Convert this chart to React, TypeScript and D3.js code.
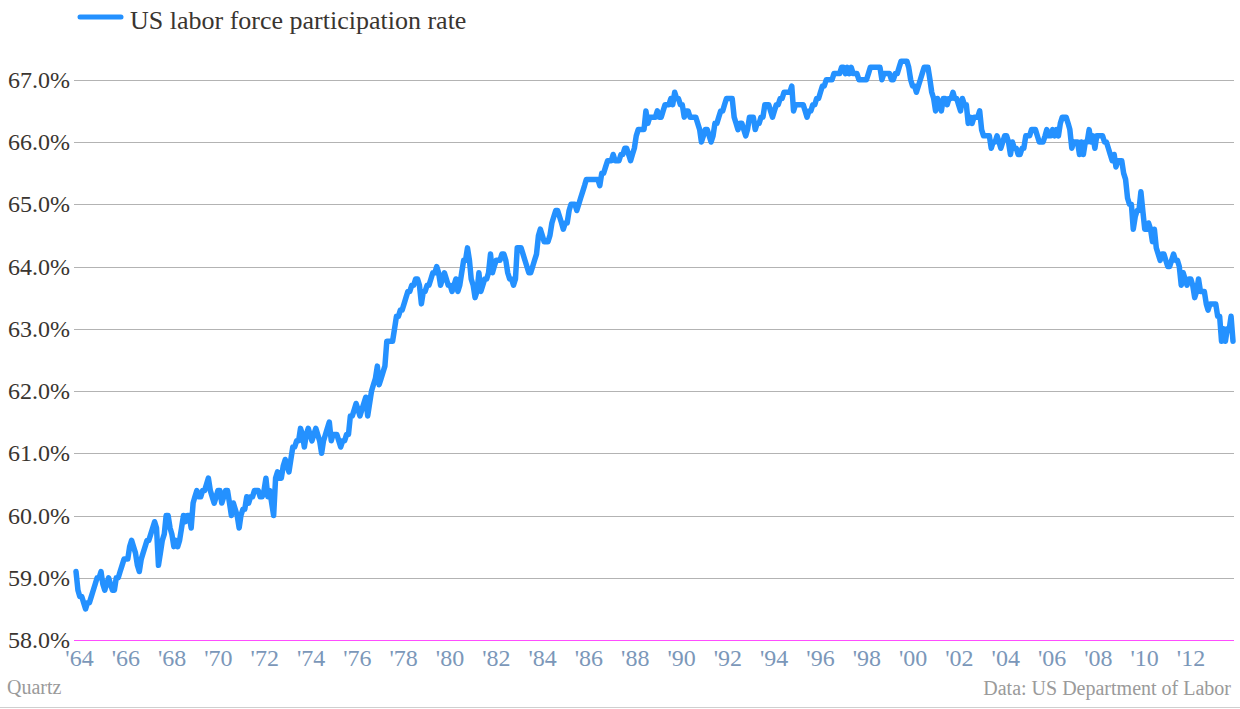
import React from "react";
import * as d3 from "d3";

// Monthly US labor force participation rate (%), Jan 1964 onward
const rate1960s = [
  59.1, 58.8, 58.7, 58.7, 58.6, 58.5, 58.6, 58.6, 58.7, 58.8, 58.9, 59.0,
  59.0, 59.1, 58.9, 58.8, 58.9, 59.0, 58.9, 58.8, 58.8, 59.0, 59.0, 59.1,
  59.2, 59.3, 59.3, 59.3, 59.5, 59.6, 59.5, 59.4, 59.2, 59.1, 59.3, 59.4,
  59.5, 59.6, 59.6, 59.7, 59.8, 59.9, 59.8, 59.2, 59.4, 59.6, 59.7, 60.0,
  60.0, 59.8, 59.7, 59.5, 59.6, 59.5, 59.6, 59.8, 60.0, 59.9, 60.0, 60.0,
  59.8, 60.2, 60.3, 60.4, 60.3, 60.3, 60.4, 60.4, 60.5, 60.6, 60.4, 60.3,
];
const rate1970s = [
  60.2, 60.3, 60.4, 60.4, 60.2, 60.3, 60.4, 60.4, 60.2, 60.0, 60.2, 60.1,
  60.0, 59.8, 60.0, 60.1, 60.1, 60.3, 60.2, 60.3, 60.3, 60.4, 60.4, 60.4,
  60.3, 60.3, 60.4, 60.6, 60.3, 60.4, 60.2, 60.0, 60.6, 60.7, 60.6, 60.6,
  60.8, 60.9, 60.8, 60.7, 60.9, 61.1, 61.1, 61.2, 61.2, 61.4, 61.3, 61.1,
  61.3, 61.4, 61.3, 61.2, 61.3, 61.4, 61.3, 61.2, 61.0, 61.2, 61.3, 61.4,
  61.5, 61.2, 61.3, 61.3, 61.3, 61.2, 61.1, 61.2, 61.2, 61.3, 61.3, 61.6,
  61.6, 61.7, 61.8, 61.7, 61.6, 61.7, 61.8, 61.9, 61.6, 61.8, 62.0, 62.1,
  62.2, 62.4, 62.1, 62.2, 62.3, 62.4, 62.8, 62.8, 62.8, 62.8, 63.0, 63.2,
  63.2, 63.3, 63.3, 63.4, 63.5, 63.6, 63.6, 63.7, 63.7, 63.8, 63.8, 63.7,
  63.4, 63.6, 63.6, 63.7, 63.7, 63.8, 63.9, 63.9, 64.0, 63.9, 63.7, 63.8,
];
const rate1980s = [
  63.9, 63.8, 63.7, 63.7, 63.6, 63.7, 63.8, 63.6, 63.7, 63.9, 64.1, 64.1,
  64.3, 64.1, 63.8, 63.7, 63.5, 63.6, 63.9, 63.6, 63.7, 63.8, 63.8, 63.9,
  64.2, 63.9, 64.0, 64.1, 64.1, 64.1, 64.2, 64.2, 64.1, 63.9, 63.8, 63.8,
  63.7, 63.8, 64.3, 64.3, 64.3, 64.2, 64.1, 64.0, 63.9, 63.9, 64.0, 64.1,
  64.2, 64.5, 64.6, 64.5, 64.4, 64.4, 64.4, 64.5, 64.7, 64.8, 64.9, 64.9,
  64.8, 64.7, 64.6, 64.7, 64.7, 64.9, 65.0, 65.0, 65.0, 64.9, 65.0, 65.1,
  65.2, 65.3, 65.4, 65.4, 65.4, 65.4, 65.4, 65.4, 65.4, 65.3, 65.5, 65.5,
  65.6, 65.7, 65.7, 65.7, 65.8, 65.7, 65.7, 65.7, 65.8, 65.8, 65.9, 65.9,
  65.8, 65.7, 65.8, 65.9, 66.1, 66.2, 66.2, 66.2, 66.2, 66.5, 66.3, 66.4,
  66.4, 66.4, 66.4, 66.5, 66.4, 66.4, 66.5, 66.6, 66.6, 66.6, 66.7, 66.6,
];
const rate1990s = [
  66.8, 66.7, 66.7, 66.6, 66.6, 66.4, 66.5, 66.5, 66.4, 66.4, 66.4, 66.4,
  66.3, 66.2, 66.0, 66.1, 66.2, 66.2, 66.1, 66.0, 66.1, 66.3, 66.3, 66.4,
  66.5, 66.5, 66.6, 66.7, 66.7, 66.7, 66.7, 66.4, 66.3, 66.2, 66.3, 66.3,
  66.2, 66.1, 66.2, 66.4, 66.4, 66.4, 66.2, 66.3, 66.3, 66.4, 66.4, 66.6,
  66.6, 66.6, 66.5, 66.4, 66.5, 66.6, 66.6, 66.7, 66.7, 66.8, 66.8, 66.8,
  66.8, 66.9, 66.5, 66.6, 66.6, 66.6, 66.6, 66.6, 66.5, 66.4, 66.5, 66.5,
  66.6, 66.6, 66.7, 66.7, 66.8, 66.9, 66.9, 67.0, 67.0, 67.0, 67.0, 67.1,
  67.1, 67.1, 67.1, 67.2, 67.2, 67.1, 67.2, 67.1, 67.2, 67.1, 67.1, 67.1,
  67.0, 67.0, 67.0, 67.0, 67.0, 67.1, 67.2, 67.2, 67.2, 67.2, 67.2, 67.2,
  67.0, 67.1, 67.1, 67.1, 67.1, 67.0, 67.0, 67.1, 67.1, 67.2, 67.3, 67.3,
];
const rate2000s = [
  67.3, 67.3, 67.2, 67.0, 66.9, 66.9, 66.8, 66.9, 67.0, 67.1, 67.2, 67.2,
  67.2, 67.0, 66.8, 66.7, 66.5, 66.7, 66.6, 66.5, 66.7, 66.7, 66.6, 66.7,
  66.7, 66.8, 66.7, 66.7, 66.6, 66.5, 66.7, 66.6, 66.6, 66.3, 66.4, 66.3,
  66.4, 66.4, 66.4, 66.5, 66.2, 66.1, 66.1, 66.1, 66.1, 65.9, 66.0, 66.0,
  66.1, 66.0, 65.9, 66.0, 66.1, 66.1, 66.0, 65.8, 66.0, 65.9, 65.9, 65.8,
  65.8, 65.9, 65.9, 66.1, 66.1, 66.1, 66.2, 66.2, 66.2, 66.1, 66.0, 66.0,
  66.0, 66.1, 66.2, 66.1, 66.1, 66.2, 66.1, 66.2, 66.1, 66.3, 66.4, 66.4,
  66.4, 66.3, 66.2, 65.9, 66.0, 66.0, 66.0, 65.8, 66.0, 65.8, 66.0, 66.0,
  66.2, 66.0, 66.1, 65.9, 66.1, 66.1, 66.1, 66.1, 66.0, 66.0, 65.9, 65.8,
  65.7, 65.8, 65.6, 65.7, 65.7, 65.7, 65.5, 65.4, 65.1, 65.0, 65.0, 64.6,
];
const rate2010s = [
  64.8, 64.9, 64.9, 65.2, 64.9, 64.6, 64.6, 64.7, 64.6, 64.4, 64.6, 64.3,
  64.2, 64.1, 64.2, 64.2, 64.1, 64.0, 64.0, 64.1, 64.2, 64.1, 64.1, 64.0,
  63.7, 63.9, 63.8, 63.7, 63.8, 63.8, 63.7, 63.5, 63.6, 63.8, 63.6, 63.6,
  63.6, 63.4, 63.3, 63.4, 63.4, 63.4, 63.4, 63.2, 63.2, 62.8, 63.0, 62.8,
  63.0, 63.0, 63.2, 62.8,
];

const yTicks = [58, 59, 60, 61, 62, 63, 64, 65, 66, 67];
const xTickYears = [
  1964, 1966, 1968, 1970, 1972, 1974, 1976, 1978, 1980, 1982, 1984, 1986, 1988,
  1990, 1992, 1994, 1996, 1998, 2000, 2002, 2004, 2006, 2008, 2010, 2012,
];
const seriesName = "US labor force participation rate";
const creditLeft = "Quartz";
const creditRight = "Data: US Department of Labor";

const FONT = "'Liberation Serif', 'DejaVu Serif', serif";

export default function App() {
  const W = 1240;
  const H = 709;
  const values = [
    ...rate1960s,
    ...rate1970s,
    ...rate1980s,
    ...rate1990s,
    ...rate2000s,
    ...rate2010s,
  ];
  const start = new Date(1964, 0, 1);
  const data = values.map((v, i) => ({ date: d3.timeMonth.offset(start, i), v }));

  const x = d3
    .scaleTime()
    .domain([start, data[data.length - 1].date])
    .range([76, 1233]);
  const y = d3.scaleLinear().domain([58, 67]).range([640, 79.8]);
  const xLabel = d3.scaleLinear().domain([1964, 2012]).range([79.5, 1191]);

  const line = d3
    .line<{ date: Date; v: number }>()
    .x((d) => x(d.date))
    .y((d) => y(d.v));

  return (
    <svg
      width={W}
      height={H}
      style={{ position: "absolute", left: 0, top: 0, background: "#fff" }}
      fontFamily={FONT}
    >
      {/* legend */}
      <line x1={80} x2={121} y1={17} y2={17} stroke="#2491ff" strokeWidth={5} strokeLinecap="round" />
      <text x={130} y={29} fontSize={26} fill="#3a3530">
        {seriesName}
      </text>

      {/* grid */}
      {yTicks.map((t) => (
        <g key={t}>
          <line
            x1={74}
            x2={1234}
            y1={Math.round(y(t)) + 0.5}
            y2={Math.round(y(t)) + 0.5}
            stroke={t === 58 ? "#ff4dff" : "#b3b3b3"}
            strokeWidth={1}
          />
          <text x={70} y={y(t) + 8} textAnchor="end" fontSize={24} fill="#3a3530">
            {t.toFixed(1) + "%"}
          </text>
        </g>
      ))}

      {/* x labels */}
      {xTickYears.map((yr) => (
        <text key={yr} x={xLabel(yr)} y={666} textAnchor="middle" fontSize={24} fill="#7b97b9">
          {"'" + String(yr % 100).padStart(2, "0")}
        </text>
      ))}

      {/* series */}
      <path
        d={line(data) || ""}
        fill="none"
        stroke="#2491ff"
        strokeWidth={5.5}
        strokeLinejoin="round"
        strokeLinecap="round"
      />

      {/* credits */}
      <text x={7} y={694} fontSize={20} fill="#9a9a9a">
        {creditLeft}
      </text>
      <text x={1231} y={695} fontSize={20} fill="#9a9a9a" textAnchor="end">
        {creditRight}
      </text>
      <line x1={0} x2={W} y1={707.5} y2={707.5} stroke="#cfcfcf" strokeWidth={1} />
    </svg>
  );
}
